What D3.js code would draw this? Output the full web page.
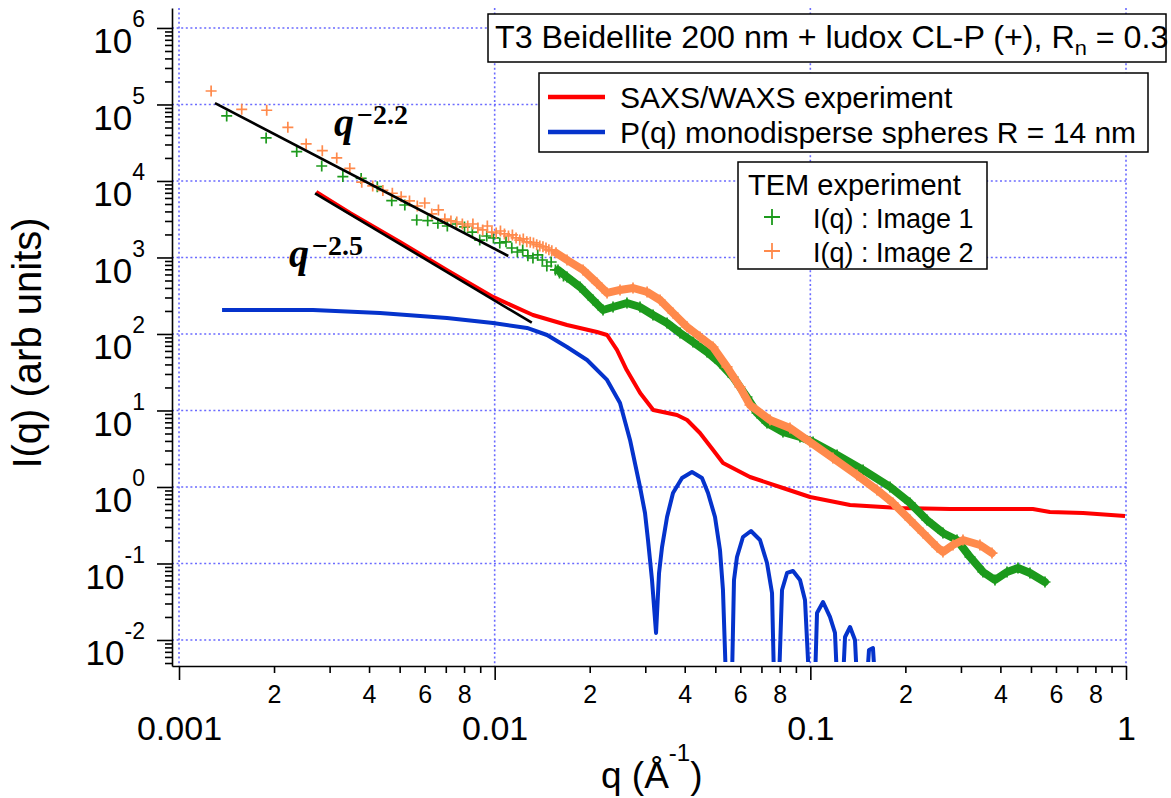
<!DOCTYPE html>
<html>
<head>
<meta charset="utf-8">
<script src="https://cdn.jsdelivr.net/npm/d3@7"></script>
<style>
  body { margin: 0; background: #fff; }
  svg { display: block; font-family: "Liberation Sans", Arial, sans-serif; }
</style>
</head>
<body>
<svg id="chart" width="1171" height="798"></svg>
<script>
// SAXS/WAXS experiment (red)
const saxsQ = [0.00272, 0.00348, 0.00501, 0.00722, 0.00988, 0.01322, 0.01695, 0.0211, 0.0227, 0.0244, 0.0262, 0.0289, 0.0318, 0.0378, 0.0407, 0.0447, 0.0492, 0.0529, 0.0644, 0.0819, 0.0998, 0.1336, 0.192, 0.277, 0.507, 0.574, 0.731, 0.993];
const saxsI = [7180, 3820, 1596, 646, 305, 177, 131, 106, 97, 61.8, 33.8, 16.9, 10.15, 8.73, 7.51, 5.08, 3.05, 2.06, 1.35, 0.97, 0.74, 0.58, 0.53, 0.516, 0.516, 0.471, 0.457, 0.418];

// P(q) monodisperse spheres R = 14 nm (blue)
const sphereQ = [0.001369, 0.002658, 0.004332, 0.007063, 0.009879, 0.01266, 0.01465, 0.01695, 0.01962, 0.0227, 0.02495, 0.02684, 0.02887, 0.02994, 0.0306, 0.03151, 0.03245, 0.03317, 0.0339, 0.03516, 0.03672, 0.03922, 0.04218, 0.04537, 0.04741, 0.04989, 0.05173, 0.05287, 0.05404, 0.05646, 0.0573, 0.05856, 0.06118, 0.06486, 0.06927, 0.07291, 0.07562, 0.07673, 0.07958, 0.08134, 0.08437, 0.08814, 0.09275, 0.09618, 0.09904, 0.1035, 0.105, 0.1097, 0.1154, 0.1197, 0.1215, 0.1269, 0.1288, 0.1336, 0.1385, 0.1405, 0.1512, 0.1534, 0.1579, 0.1602];
const sphereI = [206, 206, 188, 162, 139, 120, 97, 67.6, 45.7, 25.1, 12.5, 4.12, 1.0, 0.457, 0.203, 0.0608, 0.01236, 0.0752, 0.164, 0.405, 0.835, 1.31, 1.57, 1.31, 0.835, 0.405, 0.150, 0.0451, 0.003, 0.003, 0.0608, 0.1216, 0.222, 0.266, 0.203, 0.1015, 0.0411, 0.003, 0.003, 0.0451, 0.0752, 0.0798, 0.0608, 0.0334, 0.003, 0.003, 0.02255, 0.0314, 0.02, 0.01236, 0.003, 0.003, 0.01094, 0.01479, 0.01, 0.003, 0.003, 0.0074, 0.00785, 0.003];

// TEM image 1 (green): sparse points, then the dense part read as a band
const tem1Q = [0.001416, 0.001888, 0.00236, 0.002832, 0.003304, 0.003776, 0.004248, 0.00472, 0.005192, 0.005664, 0.006136, 0.006608, 0.00708, 0.007552, 0.008024, 0.008496, 0.008968, 0.00944, 0.009912, 0.01038, 0.01086, 0.01133, 0.0118, 0.01227, 0.01274, 0.01322, 0.01369, 0.01416, 0.01463, 0.0151, 0.01558, 0.01605, 0.01652];
const tem1I = [70800, 36500, 24200, 15700, 11400, 10800, 8430, 5530, 4850, 3090, 3030, 2800, 2580, 2740, 2510, 2150, 1690, 1910, 1800, 1550, 1600, 1330, 1180, 1250, 1050, 985, 1080, 927, 774, 873, 688, 627, 573];
const tem1BandQ = [0.01587, 0.01695, 0.01864, 0.02049, 0.02204, 0.02371, 0.02625, 0.02887, 0.03174, 0.03516, 0.03866, 0.04249, 0.04707, 0.05173, 0.05688, 0.06298, 0.06777, 0.07291, 0.0819, 0.09275, 0.102, 0.1215, 0.1469, 0.1788, 0.2069, 0.2341, 0.2631, 0.2915, 0.3205, 0.3523, 0.3845, 0.4198, 0.4548, 0.4964, 0.5537];
const tem1BandI = [688, 556, 411, 278, 206, 225, 254, 225, 177, 139, 103, 78.6, 58.2, 41.8, 27.4, 15.0, 9.27, 6.87, 5.24, 4.51, 3.88, 2.62, 1.67, 1.0, 0.618, 0.370, 0.2505, 0.203, 0.1216, 0.0775, 0.0608, 0.0775, 0.0873, 0.0752, 0.0573];

// TEM image 2 (orange)
const tem2Q = [0.001264, 0.00158, 0.001896, 0.002212, 0.002528, 0.002844, 0.00316, 0.003476, 0.003792, 0.004108, 0.004424, 0.00474, 0.005056, 0.005372, 0.005688, 0.006004, 0.00632, 0.006636, 0.006952, 0.007268, 0.007584, 0.0079, 0.008216, 0.008532, 0.008848, 0.009164, 0.00948, 0.009796, 0.01011, 0.01043, 0.01074, 0.01106, 0.01138, 0.01169, 0.01201, 0.01232, 0.01264, 0.01296, 0.01327, 0.01359, 0.0139, 0.01422, 0.01454, 0.01485, 0.01517];
const tem2I = [150000, 86500, 84000, 50300, 30500, 24900, 20000, 14600, 9640, 8610, 7520, 6910, 6240, 5480, 4710, 5150, 3710, 4180, 3180, 3000, 2910, 2740, 2580, 2740, 2430, 2290, 2580, 2150, 2090, 2220, 2030, 1910, 1970, 1800, 1690, 1750, 1600, 1580, 1550, 1470, 1410, 1380, 1330, 1260, 1220];
const tem2BandQ = [0.01564, 0.01695, 0.01905, 0.02109, 0.0227, 0.02495, 0.02743, 0.0304, 0.03341, 0.03672, 0.04066, 0.04471, 0.04915, 0.05445, 0.05985, 0.06439, 0.07451, 0.0862, 0.0998, 0.1179, 0.1405, 0.1626, 0.1827, 0.2069, 0.2275, 0.2519, 0.2631, 0.283, 0.3045, 0.3446, 0.3762];
const tem2BandI = [1150, 927, 688, 464, 344, 376, 399, 354, 278, 188, 124, 91.5, 67.6, 37.1, 20.3, 11.8, 7.51, 5.90, 3.88, 2.39, 1.435, 0.914, 0.618, 0.370, 0.2505, 0.1643, 0.1413, 0.1745, 0.203, 0.1745, 0.137];

// power-law guide lines
const slope22Q = [0.0013, 0.01104];
const slope22I = [104000, 1046];
const slope25Q = [0.002697, 0.01311];
const slope25I = [6900, 140.5];

// ticks
const xMajorTicks = [0.001, 0.01, 0.1, 1];
const xMajorLabels = ['0.001', '0.01', '0.1', '1'];
const minorMultipliers = [2, 3, 4, 5, 6, 7, 8, 9];
const xMinorLabelled = [2, 4, 6, 8];
const yExponents = [-2, -1, 0, 1, 2, 3, 4, 5, 6];

const zip = (a, b) => a.map((d, i) => [d, b[i]]);

const svg = d3.select('#chart');

const x = d3.scaleLog()
  .domain([Math.pow(10, -3.0222), 1])
  .range([172, 1126]);
const y = d3.scaleLog()
  .domain([Math.pow(10, -2.34), Math.pow(10, 6.261)])
  .range([666, 8]);

svg.append('defs').append('clipPath')
  .attr('id', 'plotclip')
  .append('rect')
  .attr('x', 172).attr('y', 8)
  .attr('width', 954).attr('height', 654);

// dotted grid
const grid = svg.append('g')
  .attr('stroke', '#6b6bff')
  .attr('stroke-width', 1.6)
  .attr('stroke-dasharray', '2,2.6');
grid.selectAll('.gx')
  .data(xMajorTicks)
  .join('line')
  .attr('x1', d => x(d)).attr('x2', d => x(d))
  .attr('y1', 8).attr('y2', 666);
grid.selectAll('.gy')
  .data(yExponents)
  .join('line')
  .attr('x1', 172).attr('x2', 1126)
  .attr('y1', d => y(Math.pow(10, d))).attr('y2', d => y(Math.pow(10, d)));

// x axis
const xMinorTicks = [];
xMajorTicks.slice(0, 3).forEach(dec => minorMultipliers.forEach(m => xMinorTicks.push(m * dec)));

const xMinorAxis = d3.axisBottom(x)
  .tickValues(xMinorTicks)
  .tickSize(7)
  .tickSizeOuter(0)
  .tickFormat(d => {
    const m = Math.round(d / Math.pow(10, Math.floor(Math.log10(d) + 1e-9)));
    return xMinorLabelled.includes(m) ? String(m) : '';
  });
const gxMinor = svg.append('g')
  .attr('transform', 'translate(0,666)')
  .call(xMinorAxis);
gxMinor.select('.domain').remove();
gxMinor.selectAll('text').attr('y', 37).attr('dy', 0).style('font-size', '25px');

const xMajorAxis = d3.axisBottom(x)
  .tickValues(xMajorTicks)
  .tickSize(14)
  .tickSizeOuter(0)
  .tickFormat((d, i) => xMajorLabels[i]);
const gxMajor = svg.append('g')
  .attr('transform', 'translate(0,666)')
  .call(xMajorAxis);
gxMajor.selectAll('text').attr('y', 74).attr('dy', 0).style('font-size', '34px');

// y axis
const yMinorTicks = [];
d3.range(-3, 7).forEach(e => minorMultipliers.forEach(m => {
  const v = m * Math.pow(10, e);
  if (v > y.domain()[0] && v < y.domain()[1]) yMinorTicks.push(v);
}));
const gyMinor = svg.append('g')
  .attr('transform', 'translate(172,0)')
  .call(d3.axisLeft(y).tickValues(yMinorTicks).tickSize(7).tickSizeOuter(0).tickFormat(() => ''));
gyMinor.select('.domain').remove();

const gyMajor = svg.append('g')
  .attr('transform', 'translate(172,0)')
  .call(d3.axisLeft(y).tickValues(yExponents.map(e => Math.pow(10, e))).tickSize(15).tickSizeOuter(0).tickFormat(() => ''));
gyMajor.selectAll('.tick').each(function(d) {
  const t = d3.select(this).append('text')
    .attr('x', -27).attr('y', 25)
    .attr('text-anchor', 'end')
    .attr('fill', '#000');
  t.append('tspan').style('font-size', '35px').text('10');
  t.append('tspan').style('font-size', '23px').attr('dy', -26).text(String(Math.round(Math.log10(d))));
});

svg.selectAll('.domain, .tick line').attr('stroke', '#000').attr('stroke-width', 1.6);
svg.selectAll('.tick text').attr('fill', '#000');

// axis titles
const xTitle = svg.append('text').attr('x', 601).attr('y', 788).attr('fill', '#000').style('font-size', '37px');
xTitle.append('tspan').text('q (Å');
xTitle.append('tspan').style('font-size', '24px').attr('dy', -27).text('-1');
xTitle.append('tspan').attr('dy', 27).text(')');

svg.append('text')
  .attr('transform', 'translate(41,343) rotate(-90)')
  .attr('text-anchor', 'middle')
  .attr('fill', '#000')
  .style('font-size', '40px')
  .text('I(q) (arb units)');

// data
const plot = svg.append('g').attr('clip-path', 'url(#plotclip)');
const line = d3.line().x(d => x(d[0])).y(d => y(d[1]));
const plus = s => `M${-s},0H${s}M0,${-s}V${s}`;

plot.append('path')
  .datum(zip(sphereQ, sphereI))
  .attr('d', line)
  .attr('fill', 'none')
  .attr('stroke', '#0533cc')
  .attr('stroke-width', 4)
  .attr('stroke-linejoin', 'round');

plot.append('path')
  .datum(zip(saxsQ, saxsI))
  .attr('d', line)
  .attr('fill', 'none')
  .attr('stroke', '#ff0000')
  .attr('stroke-width', 4)
  .attr('stroke-linejoin', 'round');

const drawTem = (q, I, bq, bI, color) => {
  plot.append('path')
    .datum(zip(bq, bI))
    .attr('d', line)
    .attr('fill', 'none')
    .attr('stroke', color)
    .attr('stroke-width', 8)
    .attr('stroke-linejoin', 'round')
    .attr('stroke-linecap', 'round');
  plot.append('g')
    .selectAll('path')
    .data(zip(q, I).concat(zip(bq, bI)))
    .join('path')
    .attr('transform', d => `translate(${x(d[0])},${y(d[1])})`)
    .attr('d', plus(5.5))
    .attr('fill', 'none')
    .attr('stroke', color)
    .attr('stroke-width', 1.7);
};
drawTem(tem1Q, tem1I, tem1BandQ, tem1BandI, '#1c9a1c');
drawTem(tem2Q, tem2I, tem2BandQ, tem2BandI, '#ff8a4c');

[[slope22Q, slope22I], [slope25Q, slope25I]].forEach(([q, I]) => {
  plot.append('path')
    .datum(zip(q, I))
    .attr('d', line)
    .attr('stroke', '#000')
    .attr('stroke-width', 2.6);
});

// power-law annotations
const annot = (xp, yp, exp) => {
  const t = svg.append('text')
    .attr('x', xp).attr('y', yp)
    .attr('fill', '#000')
    .style('font-family', '"Liberation Serif", "DejaVu Serif", serif')
    .style('font-weight', 'bold');
  t.append('tspan').style('font-style', 'italic').style('font-size', '40px').text('q');
  t.append('tspan').attr('dx', 3).attr('dy', -12).style('font-size', '28px').text(exp);
};
annot(334, 136, '\u22122.2');
annot(289, 267, '\u22122.5');

// title box
svg.append('rect')
  .attr('x', 488).attr('y', 14).attr('width', 678).attr('height', 48)
  .attr('fill', '#fff').attr('stroke', '#000').attr('stroke-width', 1.5);
const title = svg.append('text')
  .attr('transform', 'translate(495,48) scale(1.04,1)')
  .attr('fill', '#000')
  .style('font-size', '31px');
title.append('tspan').text('T3 Beidellite 200 nm + ludox CL-P (+), R');
title.append('tspan').attr('dy', 7).style('font-size', '21px').text('n');
title.append('tspan').attr('dy', -7).text(' = 0.3');

// line legend
const lineLegend = [
  { label: 'SAXS/WAXS experiment', color: '#ff0000' },
  { label: 'P(q) monodisperse spheres R = 14 nm', color: '#0533cc' }
];
svg.append('rect')
  .attr('x', 539).attr('y', 73).attr('width', 609).attr('height', 79)
  .attr('fill', '#fff').attr('stroke', '#000').attr('stroke-width', 1.5);
const ll = svg.append('g').selectAll('g')
  .data(lineLegend)
  .join('g')
  .attr('transform', (d, i) => `translate(0,${97 + i * 35})`);
ll.append('line')
  .attr('x1', 548).attr('x2', 605)
  .attr('stroke', d => d.color).attr('stroke-width', 4.5);
ll.append('text')
  .attr('x', 620).attr('y', 11)
  .attr('fill', '#000')
  .style('font-size', '30px')
  .text(d => d.label);

// TEM legend
const temLegend = [
  { label: 'I(q) : Image 1', color: '#1c9a1c' },
  { label: 'I(q) : Image 2', color: '#ff8a4c' }
];
svg.append('rect')
  .attr('x', 738).attr('y', 162).attr('width', 249).attr('height', 107)
  .attr('fill', '#fff').attr('stroke', '#000').attr('stroke-width', 1.5);
svg.append('text')
  .attr('x', 748).attr('y', 195)
  .attr('fill', '#000')
  .style('font-size', '29px')
  .text('TEM experiment');
const tl = svg.append('g').selectAll('g')
  .data(temLegend)
  .join('g')
  .attr('transform', (d, i) => `translate(0,${217 + i * 34})`);
tl.append('path')
  .attr('transform', 'translate(772,0)')
  .attr('d', plus(8))
  .attr('fill', 'none')
  .attr('stroke', d => d.color)
  .attr('stroke-width', 1.8);
tl.append('text')
  .attr('x', 813).attr('y', 11)
  .attr('fill', '#000')
  .style('font-size', '27px')
  .text(d => d.label);
</script>
</body>
</html>
